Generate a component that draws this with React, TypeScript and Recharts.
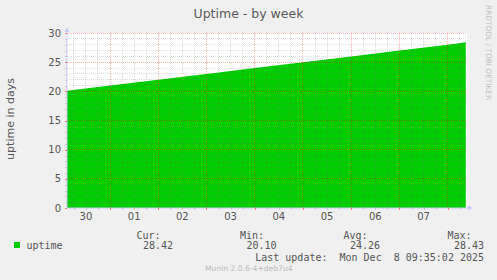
import React from "react";
import {
  ComposedChart,
  Area,
  XAxis,
  YAxis,
  ReferenceLine,
  ReferenceDot,
  CartesianGrid,
} from "recharts";

// ---- data (hours since left edge of the graph) ----
const hours = [0, 21.4, 45.4, 69.4, 93.4, 117.4, 141.4, 165.4, 189.4, 198.4];
const uptime = [20.1, 20.99, 21.99, 22.99, 23.99, 24.99, 25.99, 26.99, 27.99, 28.42];

// ---- axis labels ----
const dayLabels = ["30", "01", "02", "03", "04", "05", "06", "07"];
const firstGridHour = 3.4; // first 6-hourly grid line
const gridStepHours = 6;
const xMax = 199;
const yMajorTicks = [0, 5, 10, 15, 20, 25, 30];

// ---- legend ----
const seriesName = "uptime";
const statLabels = ["Cur:", "Min:", "Avg:", "Max:"];
const statValues = ["28.42", "20.10", "24.26", "28.43"];
const lastUpdate = "Last update:  Mon Dec  8 09:35:02 2025";
const title = "Uptime - by week";
const yLabel = "uptime in days";
const footer = "Munin 2.0.6-4+deb7u4";
const watermark = "RRDTOOL / TOBI OETIKER";

const data = hours.map((h, i) => ({ h, uptime: uptime[i] }));

const xTicks: number[] = [];
for (let k = 0; firstGridHour + k * gridStepHours <= xMax; k++) {
  xTicks.push(+(firstGridHour + k * gridStepHours).toFixed(2));
}
const yMax = yMajorTicks[yMajorTicks.length - 1];
const yTicks: number[] = [];
for (let v = 0; v <= yMax; v++) yTicks.push(v);

const GREEN = "#00CC00";
const AXIS = "#C8CCF5";
const MINOR = "rgba(128,128,128,0.27)";
const MAJOR = "rgba(255,0,0,0.32)";
const TEXT = "#555555";
const SANS = "'DejaVu Sans', sans-serif";
const MONO = "'DejaVu Sans Mono', monospace";

const tickIndex = (v: number) => Math.round((v - firstGridHour) / gridStepHours);

const XTick = (props: any) => {
  const { x, y, payload } = props;
  const k = tickIndex(payload.value);
  const isMidnight = k % 4 === 3;
  const isNoon = k % 4 === 1;
  const dayIdx = (k - 1) / 4;
  const px = Math.round(x) + 0.5;
  return (
    <g>
      <line
        x1={px}
        x2={px}
        y1={y}
        y2={y + 2}
        stroke={isMidnight ? "rgba(255,0,0,0.5)" : "rgba(128,128,128,0.3)"}
        shapeRendering="crispEdges"
      />
      {isNoon && dayLabels[dayIdx] !== undefined ? (
        <text x={x} y={y + 12} textAnchor="middle" fontFamily={SANS} fontSize={10} fill={TEXT}>
          {dayLabels[dayIdx]}
        </text>
      ) : null}
    </g>
  );
};

const YTick = (props: any) => {
  const { x, y, payload } = props;
  const v = payload.value;
  const major = yMajorTicks.includes(v);
  const py = Math.round(y) + 0.5;
  return (
    <g>
      <line
        x1={x - 2}
        x2={x}
        y1={py}
        y2={py}
        stroke={major ? "rgba(255,0,0,0.5)" : "rgba(128,128,128,0.3)"}
        shapeRendering="crispEdges"
      />
      {major ? (
        <text x={x - 6} y={y + 3.6} textAnchor="end" fontFamily={SANS} fontSize={10} fill={TEXT}>
          {v}
        </text>
      ) : null}
    </g>
  );
};

const RightArrow = (props: any) => {
  const { cx, cy } = props;
  return (
    <g>
      <line x1={cx} x2={cx + 2} y1={cy} y2={cy} stroke={AXIS} />
      <path d={`M${cx + 1},${cy - 2.5} L${cx + 6},${cy} L${cx + 1},${cy + 2.5} Z`} fill={AXIS} />
    </g>
  );
};

const UpArrow = (props: any) => {
  const { cx, cy } = props;
  return (
    <g>
      <line x1={cx} x2={cx} y1={cy} y2={cy - 2} stroke={AXIS} />
      <path d={`M${cx - 2.5},${cy - 1} L${cx},${cy - 6} L${cx + 2.5},${cy - 1} Z`} fill={AXIS} />
    </g>
  );
};

const valueEnds = [173, 276.5, 380, 484];
const labelEnds = [160.5, 264, 367.5, 471.5];

export default function App() {
  return (
    <div
      style={{
        position: "fixed",
        left: 0,
        top: 0,
        width: 497,
        height: 280,
        background: "#F0F0F0",
      }}
    >
      <ComposedChart
        width={497}
        height={280}
        data={data}
        margin={{ top: 33, right: 30, bottom: 52, left: 0 }}
      >
        <CartesianGrid fill="#FFFFFF" stroke="none" horizontal={false} vertical={false} />
        <XAxis
          dataKey="h"
          type="number"
          domain={[0, xMax]}
          ticks={xTicks}
          interval={0}
          height={20}
          tickSize={0}
          tickMargin={0}
          tick={<XTick />}
          axisLine={{ stroke: AXIS }}
          allowDataOverflow
        />
        <YAxis
          type="number"
          domain={[0, yMax]}
          ticks={yTicks}
          interval={0}
          width={67}
          tickSize={0}
          tickMargin={0}
          tick={<YTick />}
          axisLine={{ stroke: AXIS }}
          allowDataOverflow
        />
        <Area
          dataKey="uptime"
          type="linear"
          fill={GREEN}
          fillOpacity={1}
          stroke="none"
          isAnimationActive={false}
          dot={false}
          activeDot={false}
        />
        {yTicks
          .filter((v) => v > 0)
          .map((v) => (
            <ReferenceLine
              key={"h" + v}
              y={v}
              stroke={yMajorTicks.includes(v) ? MAJOR : MINOR}
              strokeDasharray="1 1"
              shapeRendering="crispEdges"
            />
          ))}
        {xTicks.map((t) => (
          <ReferenceLine
            key={"v" + t}
            x={t}
            stroke={tickIndex(t) % 4 === 3 ? MAJOR : MINOR}
            strokeDasharray="1 1"
            shapeRendering="crispEdges"
          />
        ))}
        <ReferenceDot x={xMax} y={0} r={0} shape={<RightArrow />} ifOverflow="visible" />
        <ReferenceDot x={0} y={yMax} r={0} shape={<UpArrow />} ifOverflow="visible" />
      </ComposedChart>
      <svg
        width={497}
        height={280}
        style={{ position: "absolute", left: 0, top: 0, pointerEvents: "none" }}
      >
        <text x={248.5} y={18} textAnchor="middle" fontFamily={SANS} fontSize={12.5} fill="#5A5A5A">
          {title}
        </text>
        <text
          x={0}
          y={0}
          transform="translate(14,119) rotate(-90)"
          textAnchor="middle"
          fontFamily={SANS}
          fontSize={11}
          fill={TEXT}
        >
          {yLabel}
        </text>
        <text
          x={0}
          y={0}
          transform="translate(485.5,5) rotate(90)"
          textAnchor="start"
          fontFamily={SANS}
          fontSize={7.4}
          fill="#C0C0C0"
        >
          {watermark}
        </text>
        <rect x={14} y={242} width={6} height={6} fill={GREEN} />
        <text x={26.5} y={249} fontFamily={MONO} fontSize={10} fill={TEXT}>
          {seriesName}
        </text>
        {statLabels.map((l, i) => (
          <text key={l} x={labelEnds[i]} y={238.5} textAnchor="end" fontFamily={MONO} fontSize={10} fill={TEXT}>
            {l}
          </text>
        ))}
        {statValues.map((v, i) => (
          <text key={"v" + i} x={valueEnds[i]} y={249} textAnchor="end" fontFamily={MONO} fontSize={10} fill={TEXT}>
            {v}
          </text>
        ))}
        <text x={484} y={261} textAnchor="end" fontFamily={MONO} fontSize={10} fill={TEXT} style={{ whiteSpace: "pre" }}>
          {lastUpdate}
        </text>
        <text x={248.8} y={271} textAnchor="middle" fontFamily={SANS} fontSize={7.6} fill="#BBBBBB">
          {footer}
        </text>
      </svg>
    </div>
  );
}
